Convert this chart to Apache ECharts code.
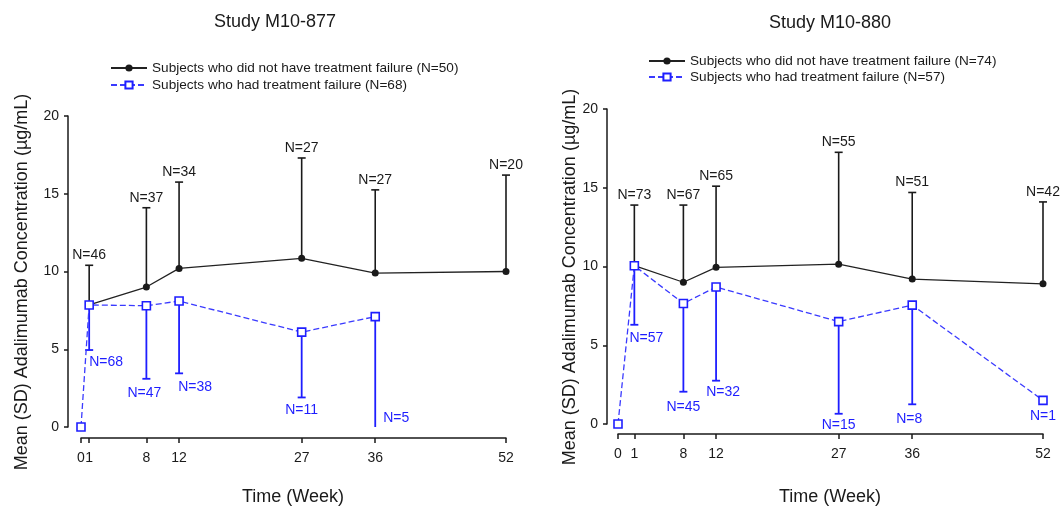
<!DOCTYPE html>
<html>
<head>
<meta charset="utf-8">
<script src="https://cdn.jsdelivr.net/npm/echarts@6/dist/echarts.min.js"></script>
<style>html,body{margin:0;padding:0;background:#fff;}#c{width:1061px;height:508px;}</style>
</head>
<body>
<div id="c"></div>
<script>
// ---------- DATA ----------
const leftTitle = 'Study M10-877';
const rightTitle = 'Study M10-880';
const xAxisTitle = 'Time (Week)';
const yAxisTitle = 'Mean (SD) Adalimumab Concentration (\u00b5g/mL)';
const leftNoFailName = 'Subjects who did not have treatment failure (N=50)';
const leftFailName = 'Subjects who had treatment failure (N=68)';
const rightNoFailName = 'Subjects who did not have treatment failure (N=74)';
const rightFailName = 'Subjects who had treatment failure (N=57)';

const leftWeeks = [0, 1, 8, 12, 27, 36, 52];
const leftTickLabels = ['0', '1', '8', '12', '27', '36', '52'];
const leftNoFailMean = [null, 7.85, 9.0, 10.2, 10.85, 9.9, 10.0];
const leftNoFailUpper = [null, 10.4, 14.1, 15.75, 17.3, 15.25, 16.2];
const leftNoFailN = [null, 46, 37, 34, 27, 27, 20];
const leftFailMean = [0, 7.85, 7.8, 8.1, 6.1, 7.1, null];
const leftFailLower = [null, 4.95, 3.1, 3.45, 1.9, 0, null];
const leftFailN = [null, 68, 47, 38, 11, 5, null];

// plotted week positions of the right panel (the "1" tick sits at ~week 2)
const rightWeeks = [0, 2, 8, 12, 27, 36, 52];
const rightTickLabels = ['0', '1', '8', '12', '27', '36', '52'];
const rightNoFailMean = [null, 10.05, 9.0, 9.95, 10.15, 9.2, 8.9];
const rightNoFailUpper = [null, 13.9, 13.9, 15.1, 17.25, 14.7, 14.1];
const rightNoFailN = [null, 73, 67, 65, 55, 51, 42];
const rightFailMean = [0, 10.05, 7.65, 8.7, 6.5, 7.55, 1.5];
const rightFailLower = [null, 6.3, 2.05, 2.75, 0.65, 1.25, null];
const rightFailN = [null, 57, 45, 32, 15, 8, 1];

// ---------- LAYOUT / STYLE ----------
const FONT = 'Liberation Sans, Arial, sans-serif';
const BLACK = '#1a1a1a';
const BLUE = '#1e1eff';
// label nudges [dx, dy] relative to bar end (px)
const leftFailNudge = [null, [17, 12], [-2, 14], [16, 14], [0, 13], [21, -9], null];
const rightFailNudge = [null, [12, 13], [0, 15], [7, 11], [0, 11], [-3, 15], [0, 16]];

function errorBars(xi, weeks, mean, bound, ns, color, width, up, nudges) {
  const data = [];
  weeks.forEach((w, i) => {
    if (ns[i] != null && mean[i] != null) data.push([w, mean[i], bound[i] == null ? NaN : bound[i], ns[i], i]);
  });
  return {
    type: 'custom', xAxisIndex: xi, yAxisIndex: xi, silent: true, z: 1,
    encode: { x: 0, y: 1 },
    data: data,
    renderItem: function (params, api) {
      const x = api.value(0), m = api.value(1), b = api.value(2), n = api.value(3), i = api.value(4);
      const pm = api.coord([x, m]);
      const children = [];
      let endY = pm[1];
      if (!isNaN(b)) {
        const pb = api.coord([x, b]);
        endY = pb[1];
        children.push({ type: 'line', shape: { x1: pm[0], y1: pm[1], x2: pb[0], y2: pb[1] },
          style: { stroke: color, lineWidth: width } });
        if (b > 0) children.push({ type: 'line', shape: { x1: pb[0] - 4, y1: pb[1], x2: pb[0] + 4, y2: pb[1] },
          style: { stroke: color, lineWidth: width } });
      }
      let dx = 0, dy = up ? -10 : 13;
      if (nudges && nudges[i]) { dx = nudges[i][0]; dy = nudges[i][1]; }
      children.push({ type: 'text', style: { text: 'N=' + n, x: pm[0] + dx, y: endY + dy,
        align: 'center', verticalAlign: 'middle', fill: color, font: '14px ' + FONT } });
      return { type: 'group', children: children };
    }
  };
}

function lineData(weeks, mean) {
  const d = [];
  weeks.forEach((w, i) => { if (mean[i] != null) d.push([w, mean[i]]); });
  return d;
}

function xAxisDef(gi, pos, labels, offset) {
  return {
    type: 'value', gridIndex: gi, min: 0, max: 52, offset: offset,
    axisLine: { show: true, onZero: false, lineStyle: { color: BLACK, width: 1.5 } },
    axisTick: { show: true, length: 5, customValues: pos, lineStyle: { color: BLACK, width: 1.5 } },
    axisLabel: { customValues: pos, margin: 13, fontSize: 14, color: BLACK, fontFamily: FONT,
      formatter: function (v) { const k = pos.indexOf(v); return k >= 0 ? labels[k] : ''; } },
    splitLine: { show: false }
  };
}
function yAxisDef(gi, offset) {
  return {
    type: 'value', gridIndex: gi, min: 0, max: 20, interval: 5, offset: offset,
    axisLine: { show: true, onZero: false, lineStyle: { color: BLACK, width: 1.5 } },
    axisTick: { show: true, length: 4, lineStyle: { color: BLACK, width: 1.5 } },
    axisLabel: { margin: 9, fontSize: 14, color: BLACK, fontFamily: FONT },
    splitLine: { show: false }
  };
}

function noFailLine(name, xi, weeks, mean) {
  return { type: 'line', name: name, xAxisIndex: xi, yAxisIndex: xi, z: 3,
    data: lineData(weeks, mean), symbol: 'circle', symbolSize: 7,
    itemStyle: { color: BLACK }, lineStyle: { color: '#222', width: 1.3 } };
}
function failLine(name, xi, weeks, mean) {
  return { type: 'line', name: name, xAxisIndex: xi, yAxisIndex: xi, z: 4,
    data: lineData(weeks, mean), symbol: 'rect', symbolSize: 8,
    itemStyle: { color: '#fff', borderColor: BLUE, borderWidth: 1.6 },
    lineStyle: { color: '#3a3aff', width: 1.3, type: [6, 3] } };
}

function axisTitle(text, x, y, rotated) {
  return { type: 'text', x: x, y: y, rotation: rotated ? Math.PI / 2 : 0, silent: true,
    style: { text: text, align: 'center', verticalAlign: 'middle', fill: BLACK, font: '18px ' + FONT } };
}

const chart = echarts.init(document.getElementById('c'), null, { renderer: 'canvas' });
chart.setOption({
  animation: false,
  backgroundColor: '#fff',
  textStyle: { fontFamily: FONT },
  title: [
    { text: leftTitle, left: 275, top: 13, textAlign: 'center', padding: 0, textStyle: { fontSize: 18, fontWeight: 'normal', color: BLACK, fontFamily: FONT } },
    { text: rightTitle, left: 830, top: 14, textAlign: 'center', padding: 0, textStyle: { fontSize: 18, fontWeight: 'normal', color: BLACK, fontFamily: FONT } }
  ],
  legend: [
    { data: [leftNoFailName, leftFailName], orient: 'vertical', left: 110, top: 61, padding: 0, itemWidth: 36, itemHeight: 9, itemGap: 3,
      textStyle: { fontSize: 13.6, color: BLACK, fontFamily: FONT } },
    { data: [rightNoFailName, rightFailName], orient: 'vertical', left: 648, top: 54, padding: 0, itemWidth: 36, itemHeight: 9, itemGap: 2,
      textStyle: { fontSize: 13.6, color: BLACK, fontFamily: FONT } }
  ],
  grid: [
    { left: 81, top: 116, width: 425, height: 311 },
    { left: 618, top: 109, width: 425, height: 315 }
  ],
  xAxis: [xAxisDef(0, leftWeeks, leftTickLabels, 11), xAxisDef(1, rightWeeks, rightTickLabels, 10)],
  yAxis: [yAxisDef(0, 13), yAxisDef(1, 11)],
  graphic: [
    axisTitle(xAxisTitle, 293, 497, false),
    axisTitle(xAxisTitle, 830, 497, false),
    axisTitle(yAxisTitle, 22, 282, true),
    axisTitle(yAxisTitle, 570, 277, true)
  ],
  series: [
    errorBars(0, leftWeeks, leftNoFailMean, leftNoFailUpper, leftNoFailN, BLACK, 1.6, true, null),
    errorBars(0, leftWeeks, leftFailMean, leftFailLower, leftFailN, BLUE, 1.8, false, leftFailNudge),
    noFailLine(leftNoFailName, 0, leftWeeks, leftNoFailMean),
    failLine(leftFailName, 0, leftWeeks, leftFailMean),
    errorBars(1, rightWeeks, rightNoFailMean, rightNoFailUpper, rightNoFailN, BLACK, 1.6, true, null),
    errorBars(1, rightWeeks, rightFailMean, rightFailLower, rightFailN, BLUE, 1.8, false, rightFailNudge),
    noFailLine(rightNoFailName, 1, rightWeeks, rightNoFailMean),
    failLine(rightFailName, 1, rightWeeks, rightFailMean)
  ]
});
</script>
</body>
</html>
